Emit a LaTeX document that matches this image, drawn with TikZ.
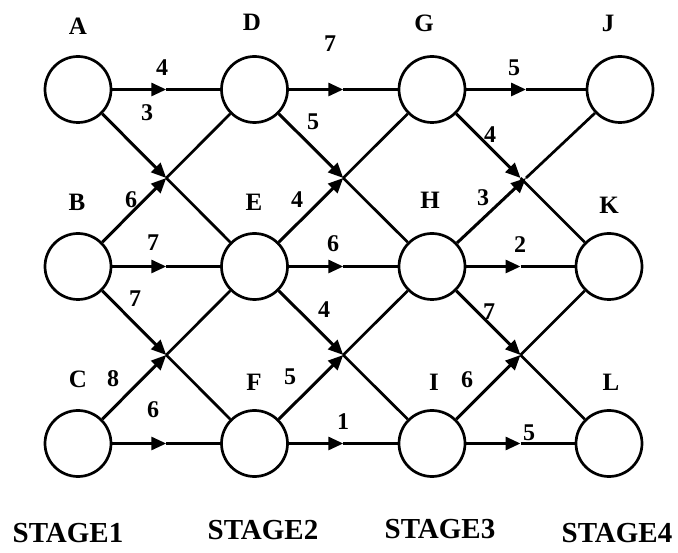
\documentclass[tikz,border=0pt]{standalone}
\usepackage{fontspec}
\setmainfont{Liberation Serif}
\usetikzlibrary{arrows.meta,calc}

\begin{document}
\begin{tikzpicture}[x=1pt,y=-1pt,
  state/.style={circle,draw,line width=2.7pt,minimum size=66pt,inner sep=0pt},
  headpart/.style={line width=3pt,-{Triangle[length=15pt,width=13pt]}},
  tailpart/.style={line width=2.7pt},
  lbl/.style={font=\fontsize{25}{25}\selectfont\bfseries,inner sep=0pt},
  wt/.style={font=\fontsize{24}{24}\selectfont\bfseries,inner sep=0pt},
  stage/.style={font=\fontsize{29}{29}\selectfont\bfseries,inner sep=0pt}]

  % page frame
  \useasboundingbox[fill=white] (0,0) rectangle (678,553);

  % states, one column per stage
  \node[state] (A) at (78,89.5)  {};
  \node[state] (B) at (78,266.5) {};
  \node[state] (C) at (78,443.5) {};
  \node[state] (D) at (254.5,89.5)  {};
  \node[state] (E) at (254.5,266.5) {};
  \node[state] (F) at (254.5,443.5) {};
  \node[state] (G) at (432,89.5)  {};
  \node[state] (H) at (432,266.5) {};
  \node[state] (I) at (432,443.5) {};
  \node[state] (J) at (620,89.5)  {};
  \node[state] (K) at (609,266.5) {};
  \node[state] (L) at (609,443.5) {};

  % state names
  \node[lbl] (tA) at (78,26)  {A};
  \node[lbl] (tD) at (252,22) {D};
  \node[lbl] (tG) at (424,23) {G};
  \node[lbl] (tJ) at (608,23) {J};
  \node[lbl] (tB) at (77,202)  {B};
  \node[lbl] (tE) at (254,202) {E};
  \node[lbl] (tH) at (430,200) {H};
  \node[lbl] (tK) at (609,205) {K};
  \node[lbl] (tC) at (78,379)  {C};
  \node[lbl] (tF) at (254,382) {F};
  \node[lbl] (tI) at (434,382) {I};
  \node[lbl] (tL) at (611,382) {L};

  % transitions: arrow tip halfway between the two states
  \foreach \u/\v in {A/D,A/E,B/D,B/E,B/F,C/E,C/F,
                     D/G,D/H,E/G,E/H,E/I,F/H,F/I,
                     G/J,G/K,H/J,H/K,H/L,I/K,I/L}{
    \coordinate (m\u\v) at ($(\u)!0.5!(\v)$);
    \draw[headpart] (\u) -- (m\u\v);
    \draw[tailpart] (m\u\v) -- (\v);
  }

  % transition costs
  \node[wt] (wAD) at (162,68)  {4};
  \node[wt] (wAE) at (147,113) {3};
  \node[wt] (wBD) at (131,200) {6};
  \node[wt] (wBE) at (153,243) {7};
  \node[wt] (wBF) at (135,299) {7};
  \node[wt] (wCE) at (113,379) {8};
  \node[wt] (wCF) at (153,410) {6};
  \node[wt] (wDG) at (330,44)  {7};
  \node[wt] (wDH) at (313,122) {5};
  \node[wt] (wEG) at (297,200) {4};
  \node[wt] (wEH) at (333,244) {6};
  \node[wt] (wEI) at (324,310) {4};
  \node[wt] (wFH) at (290,377) {5};
  \node[wt] (wFI) at (343,422) {1};
  \node[wt] (wGJ) at (514,68)  {5};
  \node[wt] (wGK) at (490,135) {4};
  \node[wt] (wHJ) at (483,198) {3};
  \node[wt] (wHK) at (520,245) {2};
  \node[wt] (wHL) at (489,312) {7};
  \node[wt] (wIK) at (467,380) {6};
  \node[wt] (wIL) at (529,433) {5};

  % stage captions
  \node[stage] (s1) at (68,533)  {STAGE1};
  \node[stage] (s2) at (263,530) {STAGE2};
  \node[stage] (s3) at (440,529) {STAGE3};
  \node[stage] (s4) at (617,533) {STAGE4};
\end{tikzpicture}
\end{document}
